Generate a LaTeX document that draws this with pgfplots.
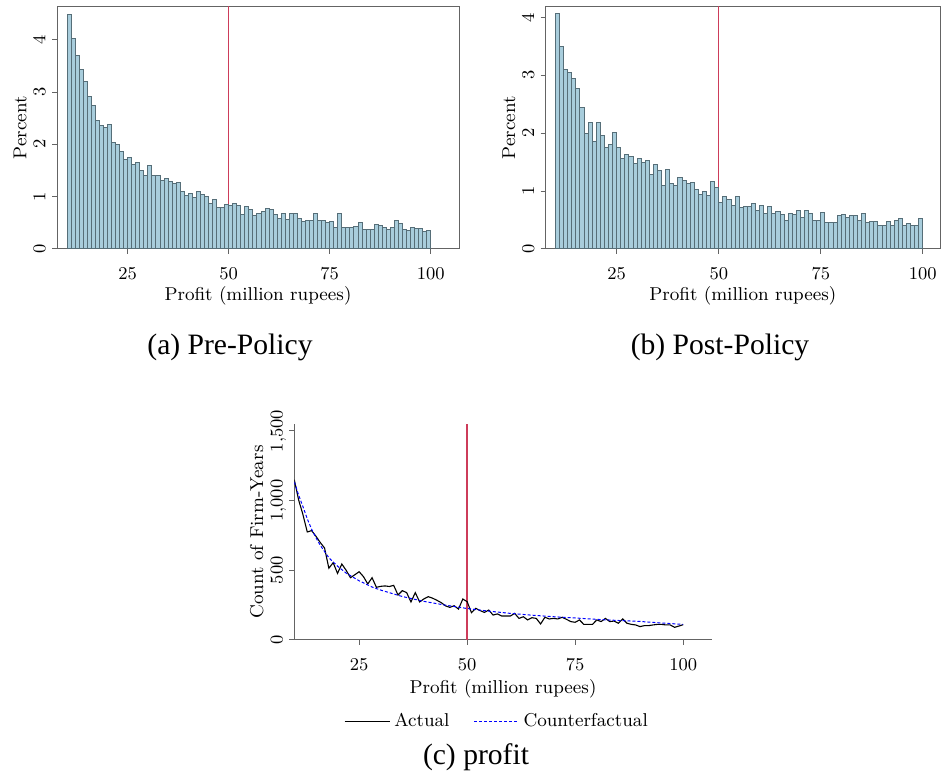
\documentclass[border=0pt]{standalone}
\usepackage{fontspec}
\usepackage{pgfplots}
\pgfplotsset{compat=1.18}
\newfontfamily\capfont{Liberation Serif}
\definecolor{barfill}{RGB}{168,205,220}
\definecolor{baredge}{RGB}{86,110,120}
\definecolor{policyred}{RGB}{205,60,90}
\definecolor{axisgray}{RGB}{100,100,100}

\pgfplotsset{
  stata/.style={
    scale only axis,
    anchor=south west,
    font=\fontsize{9.3}{11}\selectfont,
    tick align=outside,
    major tick length=2.5pt,
    tick style={axisgray, line width=0.5pt},
    axis line style={axisgray, line width=0.5pt},
    xtick pos=left, ytick pos=left,
    xtick={25,50,75,100},
    xticklabel style={anchor=base},
    xticklabel shift=12.7pt,
    yticklabel style={rotate=90, anchor=base},
    yticklabel shift=3.3pt,
    enlargelimits=false,
  },
  hist/.style={ybar interval, fill=barfill, draw=baredge, line width=0.5pt},
  policyline/.style={color=policyred, line width=0.6pt},
}

\begin{document}
\begin{tikzpicture}
\useasboundingbox (0,0) rectangle (470.5pt,390pt);

% (a) pre-policy
\begin{axis}[stata,
  at={(28.5pt,265.5pt)}, width=201pt, height=121.3pt,
  xmin=7.5, xmax=107, ymin=0, ymax=4.636,
  ytick={0,1,2,3,4},
  xlabel={Profit (million rupees)}, ylabel={Percent},
  xlabel style={at={(axis description cs:0.5,-0.2143)}, anchor=base},
  ylabel style={at={(axis description cs:-0.0761,0.5)}, anchor=base},
]
\addplot[policyline] coordinates {(50,0) (50,4.636)};
\addplot[hist] coordinates {
(10,4.49)(11,4.03)(12,3.69)(13,3.43)(14,3.20)(15,2.92)(16,2.74)(17,2.45)(18,2.36)(19,2.33)
(20,2.37)(21,2.04)(22,1.99)(23,1.87)(24,1.71)(25,1.75)(26,1.62)(27,1.66)(28,1.50)(29,1.40)
(30,1.59)(31,1.41)(32,1.41)(33,1.31)(34,1.34)(35,1.29)(36,1.26)(37,1.27)(38,1.10)(39,1.02)
(40,1.06)(41,0.99)(42,1.09)(43,1.04)(44,1.01)(45,0.86)(46,0.94)(47,0.79)(48,0.80)(49,0.85)
(50,0.83)(51,0.86)(52,0.83)(53,0.66)(54,0.81)(55,0.76)(56,0.64)(57,0.68)(58,0.71)(59,0.78)
(60,0.75)(61,0.65)(62,0.58)(63,0.67)(64,0.56)(65,0.67)(66,0.67)(67,0.58)(68,0.53)(69,0.54)
(70,0.55)(71,0.67)(72,0.55)(73,0.55)(74,0.51)(75,0.52)(76,0.41)(77,0.67)(78,0.42)(79,0.42)
(80,0.42)(81,0.43)(82,0.51)(83,0.38)(84,0.38)(85,0.38)(86,0.47)(87,0.44)(88,0.42)(89,0.37)
(90,0.41)(91,0.54)(92,0.49)(93,0.38)(94,0.35)(95,0.41)(96,0.40)(97,0.39)(98,0.33)(99,0.36)
(100,0.36)};
\end{axis}

% (b) post-policy
\begin{axis}[stata,
  at={(272.85pt,265.5pt)}, width=197.15pt, height=121.3pt,
  xmin=7.6, xmax=104.2, ymin=0, ymax=4.19,
  ytick={0,1,2,3,4},
  xlabel={Profit (million rupees)}, ylabel={Percent},
  xlabel style={at={(axis description cs:0.5,-0.2143)}, anchor=base},
  ylabel style={at={(axis description cs:-0.0776,0.5)}, anchor=base},
]
\addplot[policyline] coordinates {(50,0) (50,4.19)};
\addplot[hist] coordinates {
(10,4.06)(11,3.49)(12,3.10)(13,3.05)(14,2.94)(15,2.78)(16,2.45)(17,1.99)(18,2.19)(19,1.86)
(20,2.19)(21,1.96)(22,1.76)(23,1.80)(24,2.02)(25,1.76)(26,1.57)(27,1.63)(28,1.59)(29,1.48)
(30,1.57)(31,1.50)(32,1.53)(33,1.28)(34,1.46)(35,1.35)(36,1.09)(37,1.38)(38,1.13)(39,1.10)
(40,1.23)(41,1.18)(42,1.13)(43,1.15)(44,1.02)(45,0.94)(46,1.00)(47,0.92)(48,1.16)(49,1.07)
(50,0.81)(51,0.90)(52,0.86)(53,0.75)(54,0.90)(55,0.71)(56,0.74)(57,0.74)(58,0.78)(59,0.67)
(60,0.75)(61,0.62)(62,0.73)(63,0.62)(64,0.65)(65,0.60)(66,0.50)(67,0.62)(68,0.59)(69,0.67)
(70,0.55)(71,0.67)(72,0.62)(73,0.50)(74,0.50)(75,0.63)(76,0.46)(77,0.46)(78,0.45)(79,0.58)
(80,0.59)(81,0.55)(82,0.58)(83,0.57)(84,0.50)(85,0.62)(86,0.45)(87,0.48)(88,0.48)(89,0.41)
(90,0.41)(91,0.47)(92,0.40)(93,0.49)(94,0.53)(95,0.40)(96,0.44)(97,0.41)(98,0.41)(99,0.52)
(100,0.52)};
\end{axis}

% (c) counts, actual vs counterfactual
\begin{axis}[stata,
  at={(147.15pt,70pt)}, width=208.7pt, height=108pt,
  axis x line*=bottom, axis y line*=left,
  xmin=10, xmax=106.6, ymin=0, ymax=1550,
  ytick={0,500,1000,1500},
  yticklabel style={/pgf/number format/1000 sep={\mathord{,}}},
  xlabel={Profit (million rupees)}, ylabel={Count of Firm-Years},
  xlabel style={at={(axis description cs:0.5,-0.2454)}, anchor=base},
  ylabel style={at={(axis description cs:-0.0745,0.5)}, anchor=base},
  legend columns=2,
  legend style={draw=none, fill=none, at={(axis description cs:0.488,-0.378)}, anchor=center,
    /tikz/every even column/.append style={column sep=10pt}},
  legend image code/.code={\draw[#1] (0pt,0pt) -- (22.5pt,0pt);},
]
\draw[draw=policyred, line width=0.7pt] (axis cs:50,0) -- (axis cs:50,1550);
\addplot[black, line width=0.55pt] coordinates {
(10,1150)(11,1005)(12,900)(13,775)(14,785)(15,745)(16,700)(17,660)(18,515)(19,555)
(20,478)(21,545)(22,500)(23,447)(24,468)(25,490)(26,455)(27,402)(28,447)(29,378)
(30,385)(31,388)(32,384)(33,392)(34,323)(35,354)(36,340)(37,273)(38,340)(39,273)
(40,295)(41,311)(42,300)(43,285)(44,268)(45,245)(46,234)(47,246)(48,222)(49,294)
(50,275)(51,196)(52,227)(53,211)(54,198)(55,215)(56,179)(57,187)(58,172)(59,172)
(60,172)(61,191)(62,155)(63,167)(64,144)(65,160)(66,155)(67,115)(68,163)(69,151)
(70,155)(71,151)(72,163)(73,148)(74,132)(75,127)(76,144)(77,112)(78,112)(79,112)
(80,144)(81,132)(82,155)(83,132)(84,136)(85,120)(86,151)(87,120)(88,112)(89,108)
(90,96)(91,103)(92,103)(93,108)(94,112)(95,112)(96,108)(97,108)(98,91)(99,100)
(100,110)};
\addlegendentry{Actual}
\addplot[blue, line width=0.5pt, dash pattern=on 1.5pt off 1pt] coordinates {
(10,1135)(11,1040)(12,957)(13,870)(14,795)(15,735)(16,680)(18,590)(20,530)(22,480)
(25,425)(28,380)(30,358)(35,312)(40,277)(45,250)(50,226)(55,207)(60,191)(65,178)
(70,167)(75,158)(80,148)(85,140)(90,133)(95,122)(100,112)};
\addlegendentry{Counterfactual}
\end{axis}

\node[anchor=base, font=\capfont\fontsize{14.8}{17}\selectfont] at (115pt,212.8pt) {(a) Pre-Policy};
\node[anchor=base, font=\capfont\fontsize{14.8}{17}\selectfont] at (360pt,212.8pt) {(b) Post-Policy};
\node[anchor=base, font=\capfont\fontsize{14.8}{17}\selectfont] at (238pt,7.8pt) {(c) profit};
\end{tikzpicture}
\end{document}
